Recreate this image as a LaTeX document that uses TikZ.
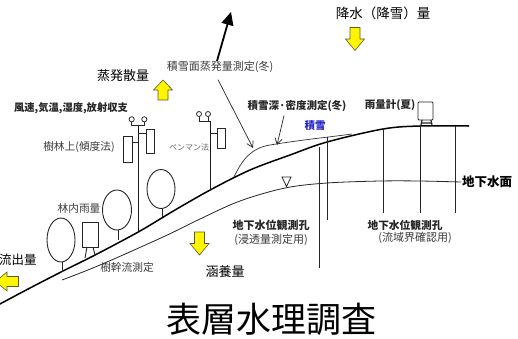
\documentclass[tikz,border=0pt]{standalone}
\usepackage{fontspec}
\setmainfont{Noto Sans CJK JP}
\usetikzlibrary{arrows.meta}
\definecolor{arrowyellow}{RGB}{255,245,0}
\definecolor{arrowedge}{RGB}{95,90,40}
\definecolor{snowblue}{RGB}{40,40,200}
\definecolor{scanink}{RGB}{60,60,60}
\tikzset{
  every node/.style={inner sep=0pt, outer sep=1pt},
  biglabel/.style={font=\fontsize{13}{15}\selectfont, text=black},
  smalllabel/.style={font=\fontsize{10.7}{12}\selectfont, text=scanink},
  boldlabel/.style={font=\fontsize{10.5}{12}\selectfont\bfseries, text=black!85},
  groundline/.style={line width=1.5pt, black},
  thinline/.style={line width=0.8pt, black!85},
  wellline/.style={line width=0.9pt, black!85},
  treecrown/.style={line width=0.9pt, draw=black!85, fill=white},
  pointer/.style={line width=0.7pt, black!85, -{Straight Barb[length=6pt,width=7pt]}},
  yarrow/.pic={
    \draw[fill=arrowyellow, draw=arrowedge, line width=0.6pt, line join=miter]
      (-5,-11.5) -- (5,-11.5) -- (5,0) -- (9.5,0) -- (0,11.5) -- (-9.5,0) -- (-5,0) -- cycle;
  }
}
\begin{document}
\begin{tikzpicture}[x=1pt, y=-1pt]
\useasboundingbox (0,0) rectangle (518,338);
\fill[white] (0,0) rectangle (518,338);
\clip (0,0) rectangle (518,338);

% ground surface
\draw[groundline, line join=round] plot[smooth, tension=0.55] coordinates {
  (-2,305) (30,288) (63,271) (97,254) (140,231) (175,210) (212,189)
  (250,170) (290,155) (327,142) (383,129) (420,126) (469,126)};

% groundwater table
\draw[thinline] plot[smooth, tension=0.55] coordinates {
  (62,280) (100,265) (163,237) (200,219) (240,201) (285,188) (327,183)
  (380,181) (420,181) (461,182)};
\draw[thinline, fill=white] (282,177) -- (291,177) -- (286.5,186.5) -- cycle;

% snow cover
\draw[line width=0.7pt, black!80] (234,177) .. controls (243,158) and (252,148) .. (270,145)
  .. controls (300,140) and (330,137) .. (352,134);

% observation wells
\draw[wellline] (319,147) -- (319,268);
\draw[wellline] (327,137) -- (327,220);
\draw[wellline] (383,128) -- (383,213);
\draw[wellline] (420,125) -- (420,213);
\draw[wellline] (455,126) -- (455,213);

% rain gauge on the ridge
\draw[line width=0.8pt, black!85, fill=white, rounded corners=1pt] (418,102) rectangle (433,120);
\draw[line width=1.2pt, black!85] (422,120) -- (421,125) (431,120) -- (432,125) (421,123) -- (432,123);

% trees
\draw[line width=0.9pt, black!85] (62,262) -- (62,272);
\draw[treecrown] (61,240) ellipse [x radius=14, y radius=22];
\draw[line width=0.9pt, black!85] (118,230) -- (118,240);
\draw[treecrown] (117,210) ellipse [x radius=14.5, y radius=20];
\draw[line width=0.9pt, black!85] (162,208) -- (162,217);
\draw[treecrown] (161,189) ellipse [x radius=14, y radius=19.5];

% throughfall gauge
\draw[line width=0.9pt, black!85] (87,247) -- (85,258) (93,247) -- (95,255);
\draw[line width=0.9pt, black!85, fill=white] (82,222) rectangle (98,247);

% tower above the canopy
\draw[line width=1.1pt, black!90] (138.3,125) -- (138.3,231);
\draw[line width=0.8pt, black!85] (131.7,121.8) -- (131.7,125) -- (144.3,125) -- (144.3,121.8);
\draw[line width=0.8pt, black!85, fill=white] (131.7,119.3) circle (2.6) (144.3,119.3) circle (2.6);
\draw[line width=0.8pt, black!85] (132,142) -- (138.3,142) (138.3,133) -- (146,133);
\draw[line width=0.8pt, black!85, fill=white] (123,136) rectangle (132,162);
\draw[line width=0.8pt, black!85, fill=white] (146,129) rectangle (154,153);

% Penman tower
\draw[line width=1.1pt, black!90] (210.5,121) -- (210.5,190);
\draw[line width=0.8pt, black!85] (199,116.5) -- (199,121) -- (210.5,121) (208,116.5) -- (208,121);
\draw[line width=0.8pt, black!85, fill=white] (199,114) circle (2.5) (208,114) circle (2.5);
\draw[line width=0.8pt, black!85] (210.5,133) -- (217,133);
\draw[line width=0.8pt, black!85, fill=white] (217,128) rectangle (225,148);

% labels
\node[biglabel, font=\fontsize{13.5}{15}\selectfont] (precip) at (383,13) {降水（降雪）量};
\node[smalllabel, font=\fontsize{11}{12}\selectfont] (snowevap) at (220,67) {積雪面蒸発量測定(冬)};
\node[biglabel] (evapo) at (123,76) {蒸発散量};
\node[boldlabel, font=\fontsize{10.3}{12}\selectfont\bfseries] (meteo) at (71,108) {風速,気温,湿度,放射収支};
\node[boldlabel] (snowdepth) at (297,106) {積雪深·密度測定(冬)};
\node[boldlabel] (raingauge) at (390,105) {雨量計(夏)};
\node[boldlabel, text=snowblue] (snow) at (315,126) {積雪};
\node[smalllabel] (canopy) at (79,147) {樹林上(傾度法)};
\node[smalllabel, font=\fontsize{8}{10}\selectfont, text=black!60] (penman) at (189,147) {ペンマン法};
\node[biglabel, font=\fontsize{12.5}{15}\selectfont\bfseries, anchor=west] (gwtable) at (461,182) {地下水面};
\node[smalllabel] (throughfall) at (79,208) {林内雨量};
\node[boldlabel, font=\fontsize{11}{12}\selectfont\bfseries] (wellA) at (271,225) {地下水位観測孔};
\node[smalllabel, font=\fontsize{11}{12}\selectfont] (wellAuse) at (271,240) {(浸透量測定用)};
\node[boldlabel, font=\fontsize{10.7}{12}\selectfont\bfseries] (wellB) at (405,225) {地下水位観測孔};
\node[smalllabel, font=\fontsize{11}{12}\selectfont] (wellBuse) at (415,238) {(流域界確認用)};
\node[biglabel, font=\fontsize{12.5}{15}\selectfont, anchor=west] (runoff) at (-2,260) {流出量};
\node[smalllabel] (stemflow) at (127,267) {樹幹流測定};
\node[biglabel] (recharge) at (225,272) {涵養量};
\node[font=\fontsize{35}{40}\selectfont] (title) at (271,319) {表層水理調査};

% yellow flux arrows
\pic at (355,39) {yarrow};
\pic[rotate=180, yscale=0.87] at (163,90) {yarrow};
\pic at (199.5,243.5) {yarrow};
\pic[rotate=-90] at (7,281.5) {yarrow};

% evaporation from the snow surface
\coordinate (evapfoot) at (217,61);
\coordinate (evaphead) at (231,12);
\draw[line width=1.8pt, -{Triangle[length=13pt,width=12pt]}] (evapfoot) -- (evaphead);

% pointers to the snow cover
\coordinate (snowsurf) at (253,148);
\coordinate (snowdepthpt) at (277,145);
\draw[pointer] (snowevap.south) ++(-2,6) -- (snowsurf);
\draw[pointer] (snowdepth.south) ++(-13,3) -- (snowdepthpt);
\end{tikzpicture}
\end{document}
